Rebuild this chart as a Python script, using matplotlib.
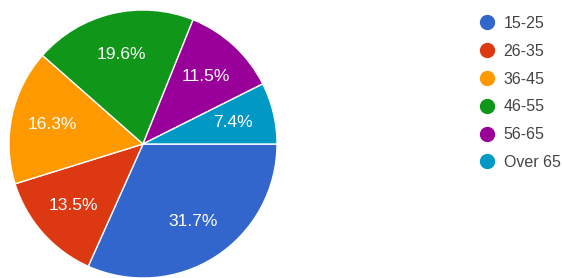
import matplotlib
matplotlib.use("Agg")
import matplotlib.pyplot as plt
from matplotlib.lines import Line2D

plt.rcParams['font.family'] = ['Liberation Sans', 'DejaVu Sans']

# age groups and share of respondents (%)
age_groups = ['15-25', '26-35', '36-45', '46-55', '56-65', 'Over 65']
shares = [31.7, 13.5, 16.3, 19.6, 11.5, 7.4]
colors = ['#3366cc', '#dc3912', '#ff9900', '#109618', '#990099', '#0099c6']

W, H = 562, 278
fig = plt.figure(figsize=(W / 100, H / 100), dpi=100)

# pie centred at (143, 144) px with radius 134 px
cx, cy, r = 143, 144, 134
ax = fig.add_axes([(cx - r) / W, (H - cy - r) / H, 2 * r / W, 2 * r / H])
wedges, texts, autotexts = ax.pie(
    shares, colors=colors, startangle=0, counterclock=False,
    autopct='%.1f%%', pctdistance=0.69, radius=1.0,
    wedgeprops=dict(edgecolor='white', linewidth=1),
    textprops=dict(color='white', fontsize=12.5))
ax.set_xlim(-1, 1)
ax.set_ylim(-1, 1)
ax.set_aspect('equal')
ax.axis('off')

# legend on the right
handles = [Line2D([0], [0], marker='o', linestyle='none', markersize=10,
                  markerfacecolor=c, markeredgecolor=c) for c in colors]
fig.legend(handles, age_groups, loc='upper left',
           bbox_to_anchor=(470 / W, 1 - 8 / H), frameon=False,
           fontsize=11.5, labelcolor='#444444', handlelength=1.1,
           handletextpad=0.5, labelspacing=0.8, borderpad=0)

fig.savefig('out.png', dpi=100)
